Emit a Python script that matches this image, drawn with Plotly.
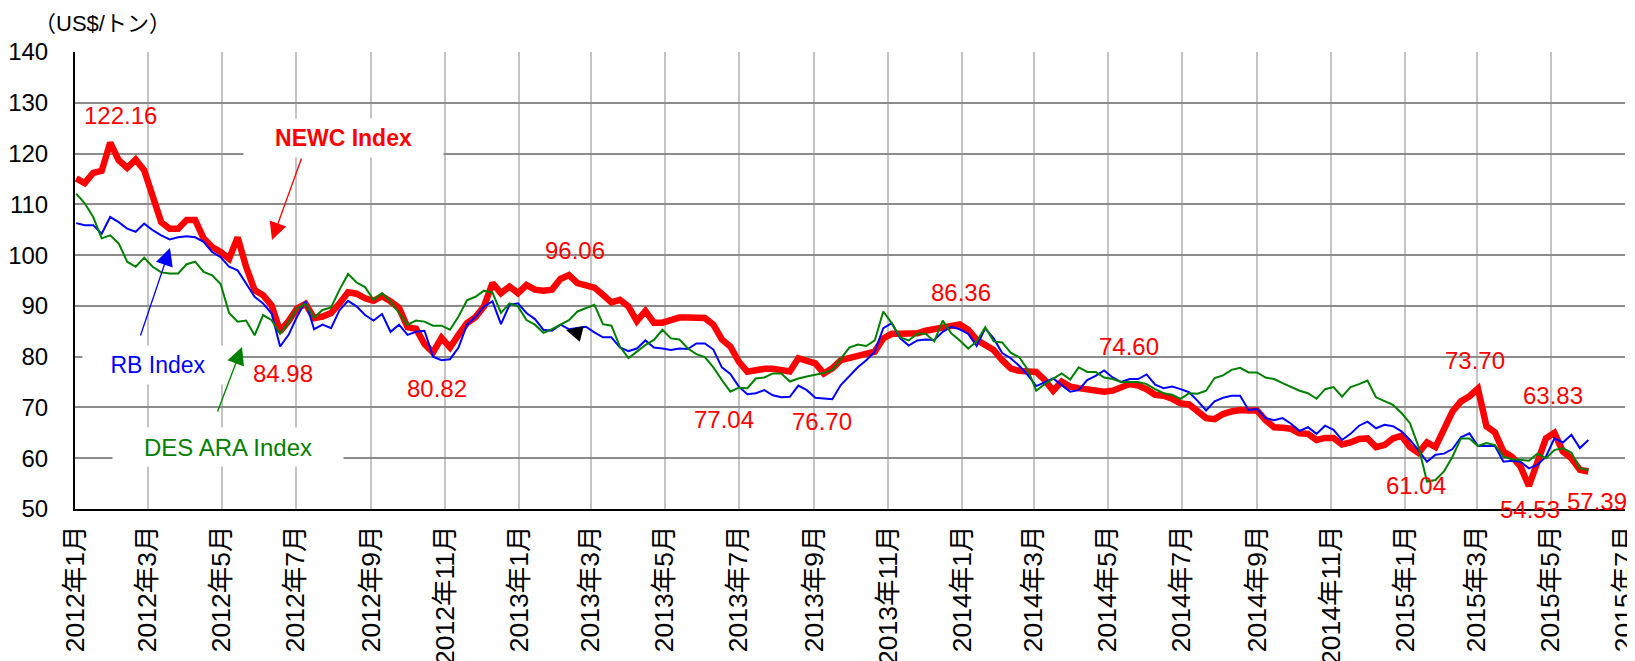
import pandas as pd
import plotly.graph_objects as go

# ---------------- data (weekly) ----------------
start_date = "2012-01-02"

newc = [115.1, 114.2, 116.2, 116.6, 122.16, 118.7, 117.2, 118.8, 116.7, 111.5,
        106.5, 105.2, 105.2, 106.9, 106.9, 103.3, 101.6, 100.6, 99.3, 103.5,
        97.7, 93.1, 92.1, 90.1, 84.98, 87.0, 89.5, 90.4, 87.6, 87.9,
        88.6, 90.5, 92.7, 92.4, 91.5, 91.0, 91.9, 90.9, 89.6, 85.8,
        85.5, 82.5, 80.82, 83.7, 81.8, 84.3, 86.6, 87.8, 89.9, 94.5,
        92.5, 93.8, 92.5, 94.1, 93.2, 93.0, 93.2, 95.3, 96.06, 94.5,
        94.1, 93.6, 92.2, 90.7, 91.2, 89.9, 87.0, 89.0, 86.7, 86.7,
        87.2, 87.7, 87.7, 87.6, 87.6, 86.3, 83.4, 82.0, 79.0, 77.04,
        77.4, 77.6, 77.6, 77.4, 77.1, 79.7, 79.3, 78.7, 76.70, 77.7,
        79.3, 79.7, 80.1, 80.5, 81.0, 83.6, 84.5, 84.5, 84.6, 84.6,
        85.1, 85.4, 85.7, 86.2, 86.36, 85.3, 83.3, 82.3, 81.3, 79.3,
        77.7, 77.2, 77.2, 77.0, 75.4, 73.3, 75.1, 74.1, 73.8, 73.6,
        73.6, 73.1, 73.3, 73.8, 74.60, 74.3, 73.6, 72.5, 72.3, 71.7,
        70.8, 70.6, 69.4, 67.9, 67.7, 68.7, 69.2, 69.5, 69.4, 69.4,
        67.5, 66.1, 66.0, 65.8, 64.9, 64.8, 63.6, 64.0, 64.0, 62.7,
        63.1, 63.8, 63.9, 62.2, 62.6, 63.9, 64.4, 62.2, 61.04, 63.1,
        62.2, 65.9, 69.2, 71.2, 72.2, 73.70, 66.3, 65.1, 61.3, 60.3,
        58.4, 54.53, 59.7, 63.9, 65.0, 61.3, 60.0, 57.7, 57.39]

rb = [106.3, 105.9, 105.9, 104.2, 107.5, 106.5, 105.2, 104.6, 106.2, 104.9,
      103.9, 103.1, 103.5, 103.7, 103.5, 102.6, 100.6, 99.6, 97.7, 97.0,
      94.4, 91.8, 90.5, 88.5, 82.0, 84.3, 87.9, 90.9, 85.4, 86.3,
      85.6, 89.2, 91.0, 89.9, 88.2, 87.1, 88.4, 84.9, 86.3, 84.3,
      84.9, 85.1, 80.0, 79.3, 79.5, 81.8, 86.3, 87.8, 89.9, 90.9,
      86.4, 90.2, 90.5, 88.6, 87.4, 85.3, 85.1, 86.3, 85.4, 85.6,
      85.9, 84.8, 83.8, 83.8, 81.8, 81.1, 81.6, 83.2, 81.8, 81.6,
      81.3, 81.6, 81.5, 82.6, 82.6, 81.4, 77.9, 76.6, 74.1, 72.6,
      72.8, 73.4, 72.4, 72.0, 72.1, 74.3, 73.4, 71.9, 71.8, 71.6,
      74.4, 76.1, 77.9, 79.3, 81.0, 85.6, 86.6, 83.6, 82.2, 83.2,
      83.4, 83.3, 84.9, 85.9, 85.4, 84.5, 82.1, 85.6, 83.6, 80.7,
      79.7, 78.2, 76.4, 74.2, 74.9, 75.7, 74.4, 73.1, 73.4, 75.4,
      76.2, 77.3, 75.9, 75.0, 75.6, 75.6, 76.5, 74.5, 73.8, 74.1,
      73.6, 73.0, 71.3, 69.4, 71.2, 71.9, 72.3, 72.3, 69.5, 69.7,
      67.9, 67.5, 67.9, 66.8, 65.4, 66.1, 64.8, 66.4, 65.6, 63.6,
      64.8, 66.4, 67.2, 65.9, 66.6, 66.3, 65.3, 63.6, 61.6, 59.3,
      60.7, 60.9, 61.8, 64.1, 64.9, 62.4, 62.4, 62.4, 59.3, 59.5,
      59.3, 58.0, 58.7, 60.3, 63.9, 63.1, 64.6, 62.0, 63.6]

des_ara = [112.1, 110.2, 107.5, 103.3, 103.9, 102.3, 98.7, 97.7, 99.5, 97.7,
           96.6, 96.4, 96.4, 98.2, 98.7, 96.7, 96.0, 94.3, 88.6, 86.9,
           87.1, 84.2, 88.2, 87.2, 84.5, 86.8, 89.5, 90.4, 87.7, 89.2,
           89.7, 93.2, 96.3, 94.6, 93.7, 91.2, 92.5, 90.9, 88.6, 86.3,
           87.1, 86.9, 86.1, 86.1, 85.3, 87.9, 91.1, 91.8, 93.0, 92.6,
           88.6, 90.5, 89.9, 87.2, 86.3, 84.7, 85.4, 86.3, 87.2, 88.9,
           89.6, 90.2, 86.4, 86.1, 82.0, 79.7, 81.0, 82.3, 83.3, 85.3,
           83.6, 83.4, 81.6, 80.5, 79.9, 77.9, 75.4, 73.1, 73.9, 73.8,
           75.7, 75.9, 76.7, 76.7, 75.1, 75.7, 76.1, 76.4, 76.8, 77.4,
           79.6, 81.8, 82.4, 82.1, 83.2, 88.9, 86.6, 83.8, 83.2, 84.5,
           84.5, 83.0, 87.1, 84.6, 83.2, 81.6, 83.0, 85.8, 83.0, 82.8,
           80.8, 79.9, 77.5, 73.3, 74.6, 75.7, 76.7, 75.5, 77.9, 77.0,
           77.0, 75.9, 75.6, 75.0, 75.0, 75.0, 74.6, 73.6, 72.8, 72.5,
           71.7, 72.8, 72.7, 73.3, 75.8, 76.3, 77.4, 77.8, 76.9, 76.9,
           75.9, 75.6, 74.8, 74.0, 73.3, 72.8, 71.7, 73.6, 74.0, 72.1,
           74.0, 74.6, 75.3, 72.0, 71.2, 70.5, 68.9, 66.9, 62.3, 55.4,
           55.7, 57.4, 60.3, 63.9, 63.9, 62.4, 63.0, 62.6, 60.3, 59.8,
           59.7, 59.5, 60.9, 60.0, 61.6, 62.0, 61.1, 58.0, 57.7]

tick_dates = pd.date_range("2012-01-01", "2015-07-01", freq="2MS")
tick_labels = [f"{d.year}年{d.month}月" for d in tick_dates]

series_names = ["NEWC Index", "RB Index", "DES ARA Index"]
y_label = "（US$/トン）"

# value labels: (text, screen pixel x, screen pixel y)
value_labels = [("122.16", 120, 115), ("84.98", 283, 373), ("80.82", 437, 388),
                ("96.06", 575, 250), ("77.04", 724, 419), ("76.70", 822, 421),
                ("86.36", 961, 292), ("74.60", 1129, 346), ("61.04", 1416, 485),
                ("73.70", 1475, 360), ("63.83", 1553, 395), ("54.53", 1530, 509),
                ("57.39", 1597, 501)]

# ---------------- figure ----------------
W, H = 1635, 661
OFF = 8                      # page body margin of the html page
SL, SR, ST, SB = 75, 1625, 52, 509   # plot area on screen
L, R, T, B = SL - OFF, SR - OFF, ST - OFF, SB - OFF


def px(x):
    return (x - SL) / (SR - SL)


def py(y):
    return (SB - y) / (SB - ST)


def dates(vals):
    return pd.date_range(start_date, periods=len(vals), freq="7D")


fig = go.Figure()
fig.add_trace(go.Scatter(x=dates(newc), y=newc, mode="lines", name=series_names[0],
                         line=dict(color="#FF0000", width=6.5)))
fig.add_trace(go.Scatter(x=dates(rb), y=rb, mode="lines", name=series_names[1],
                         line=dict(color="#0000FF", width=2)))
fig.add_trace(go.Scatter(x=dates(des_ara), y=des_ara, mode="lines", name=series_names[2],
                         line=dict(color="#008000", width=2)))

base_font = "Liberation Sans, Arial, Noto Sans CJK JP, sans-serif"
ann = []
ann.append(dict(text=y_label, x=px(102), y=py(23), xref="paper", yref="paper",
                xanchor="center", yanchor="middle",
                showarrow=False, font=dict(size=22, color="black", family=base_font)))
for txt, x, y in value_labels:
    ann.append(dict(text=txt, x=px(x), y=py(y), xref="paper", yref="paper",
                    xanchor="center", yanchor="middle",
                    showarrow=False, font=dict(size=24, color="#FF0000", family=base_font)))

# series name boxes (white background masks gridlines)
ann.append(dict(text="<b>NEWC Index</b>", x=px(343), y=py(138), xref="paper", yref="paper",
                xanchor="center", yanchor="middle",
                showarrow=False, bgcolor="white", width=199, height=38, borderpad=0,
                font=dict(size=23, color="#FF0000", family=base_font)))
ann.append(dict(text="RB Index", x=px(158), y=py(365), xref="paper", yref="paper",
                xanchor="center", yanchor="middle",
                showarrow=False, bgcolor="white", width=150, height=38, borderpad=0,
                font=dict(size=23, color="#0000FF", family=base_font)))
ann.append(dict(text="DES ARA Index", x=px(228), y=py(447), xref="paper", yref="paper",
                xanchor="center", yanchor="middle",
                showarrow=False, bgcolor="white", width=230, height=38, borderpad=0,
                font=dict(size=24, color="#008000", family=base_font)))

# arrows: (tip x, tip y, tail x, tail y, color) in screen pixels
arrows = [(272, 240, 302, 157, "#FF0000"),
          (170, 248, 140, 337, "#0000FF"),
          (242, 347, 217, 413, "#008000")]
for tx, ty, sx, sy, c in arrows:
    ann.append(dict(text="", x=px(tx), y=py(ty), xref="paper", yref="paper",
                    showarrow=True, ax=sx - tx, ay=sy - ty, arrowhead=2,
                    arrowsize=2.7, arrowwidth=1.3, arrowcolor=c, standoff=0))
ann.append(dict(text="", x=px(566), y=py(330), xref="paper", yref="paper",
                showarrow=True, ax=12, ay=3, arrowhead=2, arrowsize=2.5,
                arrowwidth=1.3, arrowcolor="black", standoff=0))

fig.update_layout(
    width=W, height=H,
    margin=dict(l=L, r=W - R, t=T, b=H - B, autoexpand=False),
    paper_bgcolor="white", plot_bgcolor="white",
    showlegend=False,
    annotations=ann,
    font=dict(family=base_font, color="black"),
)
fig.update_xaxes(
    type="date", range=["2012-01-01", "2015-07-01 04:00"],
    tickvals=list(tick_dates), ticktext=tick_labels, tickangle=-90,
    tickfont=dict(size=26.5, color="black", family=base_font),
    showgrid=True, gridcolor="#C4C4C4", gridwidth=1.5,
    showline=True, linecolor="black", linewidth=2,
    ticks="", ticklabelstandoff=4, zeroline=False, automargin=False,
)
fig.update_yaxes(
    range=[50, 140], dtick=10, tick0=50,
    tickfont=dict(size=24, color="black", family=base_font),
    showgrid=True, gridcolor="#8C8C8C", gridwidth=1.5,
    showline=True, linecolor="black", linewidth=2,
    ticks="", ticklabelstandoff=20, zeroline=False, automargin=False,
)

fig.write_html("out.html")
